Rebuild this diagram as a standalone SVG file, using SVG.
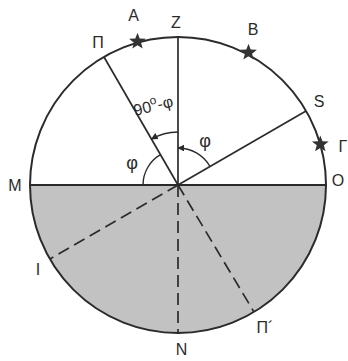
<svg xmlns="http://www.w3.org/2000/svg" width="348" height="361" viewBox="0 0 348 361">
<style>
.ln{stroke:#2b2b2b;stroke-width:1.7;fill:none}
.dash{stroke:#2b2b2b;stroke-width:1.7;fill:none;stroke-dasharray:12 6}
.ang{stroke:#2b2b2b;stroke-width:1.4;fill:none}
.lbl{font-family:"Liberation Sans",Arial,sans-serif;font-size:16px;fill:#2b2b2b}
.phi{font-size:18px}
.star{fill:#333}
</style>
<defs>
<path id="star" d="M0,-8.8 L2.2,-3 L8.4,-2.7 L3.55,1.15 L5.2,7.1 L0,3.75 L-5.2,7.1 L-3.55,1.15 L-8.4,-2.7 L-2.2,-3Z"/>
<marker id="arr" viewBox="0 0 10 10" refX="9" refY="5" markerWidth="7" markerHeight="7" markerUnits="userSpaceOnUse" orient="auto">
<path d="M0,0 L10,5 L0,10 Z" fill="#2b2b2b"/>
</marker>
</defs>
<rect width="348" height="361" fill="#fff"/>
<g id="lower-half">
<path d="M30,185 A148,148 0 0 0 326,185 Z" fill="#c2c2c2"/>
</g>
<g id="circle">
<circle cx="178" cy="185" r="148" fill="none" stroke="#2b2b2b" stroke-width="2"/>
</g>
<g id="connectors">
<line class="ln" x1="30" y1="185" x2="326" y2="185" style="stroke-width:2"/>
<line class="ln" x1="178" y1="185" x2="178" y2="37"/>
<line class="ln" x1="178" y1="185" x2="104" y2="57"/>
<line class="ln" x1="178" y1="185" x2="306" y2="111"/>
<line class="dash" x1="178" y1="185" x2="50" y2="259"/>
<line class="dash" x1="178" y1="185" x2="178" y2="333"/>
<line class="dash" x1="178" y1="185" x2="254" y2="312"/>
<path class="ang" d="M178,132 A53,53 0 0 0 151.5,139.1" marker-end="url(#arr)"/>
<path class="ang" d="M210,166.5 A37,37 0 0 0 178,148" marker-end="url(#arr)"/>
<path class="ang" d="M143,185 A35,35 0 0 1 160.5,154.7"/>
</g>
<g id="stars">
<use href="#star" class="star" x="137.5" y="41.5"/>
<use href="#star" class="star" x="248.5" y="52.5"/>
<use href="#star" class="star" x="320.3" y="144.2"/>
</g>
<g id="labels">
<text class="lbl" x="133.5" y="21" text-anchor="middle">A</text>
<text class="lbl" x="176" y="28" text-anchor="middle">Z</text>
<text class="lbl" x="253" y="35" text-anchor="middle">B</text>
<text class="lbl" x="98" y="48" text-anchor="middle">Π</text>
<text class="lbl" x="319" y="107" text-anchor="middle">S</text>
<text class="lbl" x="343" y="151.5" text-anchor="middle">Γ</text>
<text class="lbl" x="338" y="185.5" text-anchor="middle">O</text>
<text class="lbl" x="15" y="191" text-anchor="middle">M</text>
<text class="lbl" x="38" y="275" text-anchor="middle">I</text>
<text class="lbl" x="181.5" y="355" text-anchor="middle">N</text>
<text class="lbl" x="265" y="333" text-anchor="middle">Π´</text>
<text class="lbl phi" x="205" y="147" text-anchor="middle">φ</text>
<text class="lbl phi" x="132" y="169" text-anchor="middle">φ</text>
<text class="lbl" transform="translate(135,116) rotate(-14)" font-size="17">90<tspan dy="-7" font-size="12">o</tspan><tspan dy="7">-φ</tspan></text>
</g>
</svg>
